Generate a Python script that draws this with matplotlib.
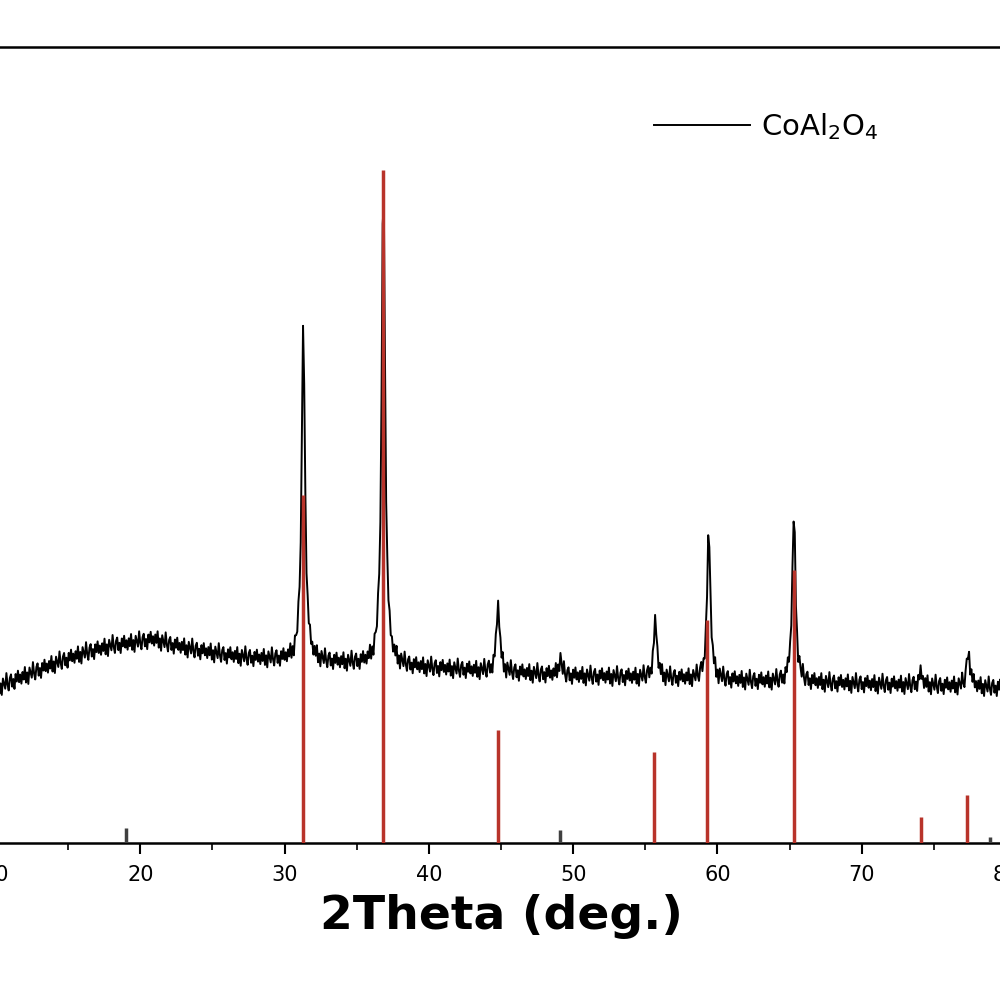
import numpy as np
import matplotlib.pyplot as plt
from matplotlib.ticker import MultipleLocator

# baseline of the measured pattern (2theta, intensity)
base_x = [10, 12, 14, 16, 18, 20, 21, 22, 24, 26, 28, 30, 35, 40, 45, 50, 55, 60, 65, 70, 75, 80]
base_y = [19.5, 21.0, 22.5, 23.8, 24.8, 25.3, 25.6, 25.0, 24.2, 23.6, 23.2, 23.0, 22.5, 22.0, 21.5, 21.0, 20.8, 20.5, 20.2, 20.0, 19.8, 19.5]

# measured peaks: position, height above baseline
peak_pos = [31.3, 36.85, 44.8, 49.1, 55.7, 59.4, 65.3, 74.1, 77.4]
peak_hgt = [42.0, 61.5, 8.5, 2.0, 7.0, 18.5, 21.0, 1.5, 4.5]

# hand-read jitter pattern of the noisy curve
jitter = [0.6, -0.4, 1.1, -0.9, 0.3, -1.2, 0.8, 0.1, -0.6, 1.3, -0.2, -1.0, 0.5, 0.9, -0.7, 0.2, -1.1, 0.7, -0.3, 1.0, -0.5, 0.4, -0.8]

# reference stick pattern
ref_pos = [19.0, 31.3, 36.85, 44.8, 49.1, 55.6, 59.3, 65.3, 74.1, 77.3, 78.9]
ref_hgt = [1.9, 43.7, 84.5, 14.2, 1.6, 11.4, 28.0, 34.3, 3.3, 6.0, 0.8]

x = np.arange(10, 80.01, 0.08)
y = np.interp(x, base_x, base_y)
for p, h in zip(peak_pos, peak_hgt):
    w = 0.14
    y = y + h * w**2 / ((x - p)**2 + w**2)
y = y + np.resize(jitter, x.size)

fig = plt.figure(figsize=(10, 10), dpi=100)
ax = fig.add_axes([-0.004, 0.157, 1.01, 0.796])
ax.plot(x, y, color='black', lw=1.4, label='CoAl$_2$O$_4$', zorder=2)
for p, h in zip(ref_pos, ref_hgt):
    c = '#404040' if h < 2.5 else '#b8332a'
    ax.vlines(p, 0, h, color=c, lw=2.5, zorder=3)

ax.set_xlim(10, 80)
ax.set_ylim(0, 100)
ax.set_yticks([])
ax.xaxis.set_major_locator(MultipleLocator(10))
ax.xaxis.set_minor_locator(MultipleLocator(5))
ax.tick_params(axis='x', which='major', direction='out', length=8, width=1.5, labelsize=15, pad=8)
ax.tick_params(axis='x', which='minor', direction='out', length=5, width=1.2)
for s in ax.spines.values():
    s.set_linewidth(1.8)
ax.set_xlabel('2Theta (deg.)', fontsize=34, fontweight='bold', labelpad=6)
ax.legend(loc='center left', bbox_to_anchor=(0.625, 0.9), frameon=False,
          fontsize=21, handlelength=3.3, handletextpad=0.4)
fig.savefig('out.png', dpi=100)
